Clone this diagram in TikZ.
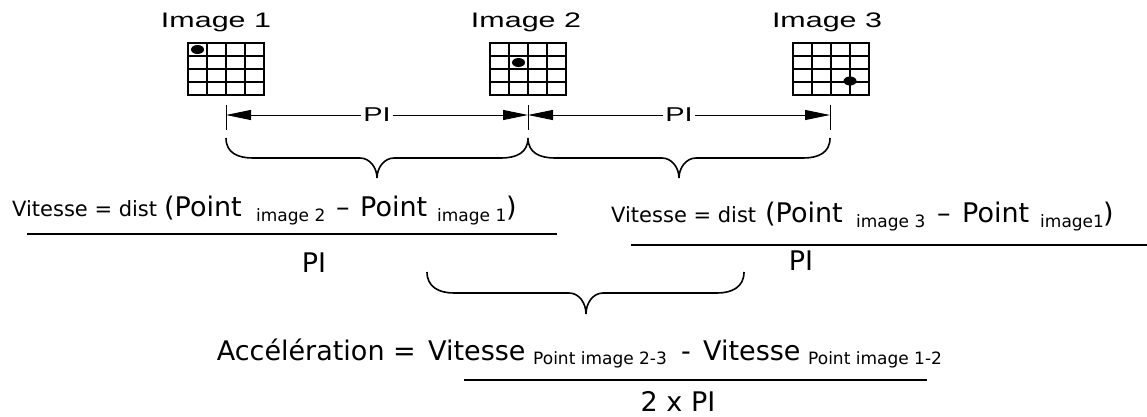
\documentclass[tikz,border=0pt]{standalone}
\usepackage{fontspec}
\usetikzlibrary{arrows.meta}
\newfontfamily\verd{DejaVu Sans}
\newfontfamily\arw[FakeStretch=1.45]{Liberation Sans}
\newcommand\fsz[1]{\fontsize{#1}{#1}\selectfont}
\newcommand\bracepath[6]{%
\draw[bracestyle] (#1,#4) .. controls (#1,#4+15) and (#1+12,#5) .. (#1+27,#5) -- (#2-17,#5) .. controls (#2-7,#5) and (#2,#5+10) .. (#2,#6) .. controls (#2,#5+10) and (#2+7,#5) .. (#2+17,#5) -- (#3-27,#5) .. controls (#3-12,#5) and (#3,#4+15) .. (#3,#4);}
\begin{document}
\begin{tikzpicture}[x=1pt,y=-1pt,
  gridline/.style={line width=1.3pt},
  tickline/.style={line width=1pt},
  dimarrow/.style={line width=1pt,-{Triangle[length=25pt,width=10pt]}},
  bracestyle/.style={line width=1.6pt},
  fracbar/.style={line width=2pt},
  imglabel/.style={inner sep=0pt,anchor=base,font=\arw\fsz{21}},
  pilabel/.style={inner sep=2pt,font=\arw\fsz{20}},
  big/.style={inner sep=0pt,anchor=base west,font=\verd\fsz{27}},
  small/.style={inner sep=0pt,anchor=base west,font=\verd\fsz{21}},
  sub/.style={inner sep=0pt,anchor=base west,font=\verd\fsz{17}},
  dot/.style={fill=black}]
\useasboundingbox (0,0) rectangle (1147,416);
% image labels
\node[imglabel] (l1) at (216,27) {Image 1};
\node[imglabel] (l2) at (526,27) {Image 2};
\node[imglabel] (l3) at (827,27) {Image 3};
% grids
\foreach \gx in {188,490,793}{
  \begin{scope}[shift={(\gx,43)}]
    \draw[gridline] (0,0) rectangle (76,52);
    \foreach \i in {1,2,3} \draw[gridline] (19*\i,0) -- (19*\i,52);
    \foreach \j in {1,2,3} \draw[gridline] (0,13*\j) -- (76,13*\j);
  \end{scope}}
% dots
\fill[dot] (197.5,49.5) ellipse [x radius=6.5pt, y radius=4.5pt];
\fill[dot] (518.5,62.5) ellipse [x radius=6.5pt, y radius=4.5pt];
\fill[dot] (850,81) ellipse [x radius=6.5pt, y radius=4.5pt];
% dimension lines
\draw[tickline] (226,105) -- (226,130);
\draw[tickline] (528,105) -- (528,130);
\draw[tickline] (830,105) -- (830,130);
\coordinate (t1) at (226,115);
\coordinate (t2) at (528,115);
\coordinate (t3) at (830,115);
\node[pilabel] (p1) at (377,115) {PI};
\node[pilabel] (p2) at (679,115) {PI};
\draw[dimarrow] (p1) -- (t1);
\draw[dimarrow] (p1) -- (t2);
\draw[dimarrow] (p2) -- (t2);
\draw[dimarrow] (p2) -- (t3);
% braces
\bracepath{226}{377}{528}{138}{158}{178}
\bracepath{528}{679}{830}{138}{158}{178}
\bracepath{427}{586}{744}{272}{293}{314}
% formula 1
\node[small] (a1) at (12,216) {Vitesse = dist};
\node[big] (a2) at (164,216) {(Point};
\node[sub] (a3) at (256,221) {image 2};
\node[big] (a4) at (336,216) {–};
\node[big] (a5) at (360,216) {Point};
\node[sub] (a6) at (437,221) {image 1};
\node[big] (a7) at (506,216) {)};
\draw[fracbar] (27,234) -- (557,234);
\node[big,anchor=base] (a8) at (314,272) {PI};
% formula 2
\node[small] (b1) at (611,222) {Vitesse = dist};
\node[big] (b2) at (765,222) {(Point};
\node[sub] (b3) at (856,227) {image 3};
\node[big] (b4) at (937,222) {–};
\node[big] (b5) at (962,222) {Point};
\node[sub] (b6) at (1040,227) {image1};
\node[big] (b7) at (1103,222) {)};
\draw[fracbar] (631,245) -- (1147,245);
\node[big,anchor=base] (b8) at (801,270) {PI};
% formula 3
\node[big,anchor=base east] (c1) at (416,360) {Accélération =};
\node[big] (c2) at (428,360) {Vitesse};
\node[sub] (c3) at (533,364) {Point image 2-3};
\node[big] (c4) at (681,360) {-};
\node[big] (c5) at (703,360) {Vitesse};
\node[sub] (c6) at (808,364) {Point image 1-2};
\draw[fracbar] (464,380) -- (927,380);
\node[big,anchor=base] (c7) at (678,411) {2 x PI};
\end{tikzpicture}
\end{document}
